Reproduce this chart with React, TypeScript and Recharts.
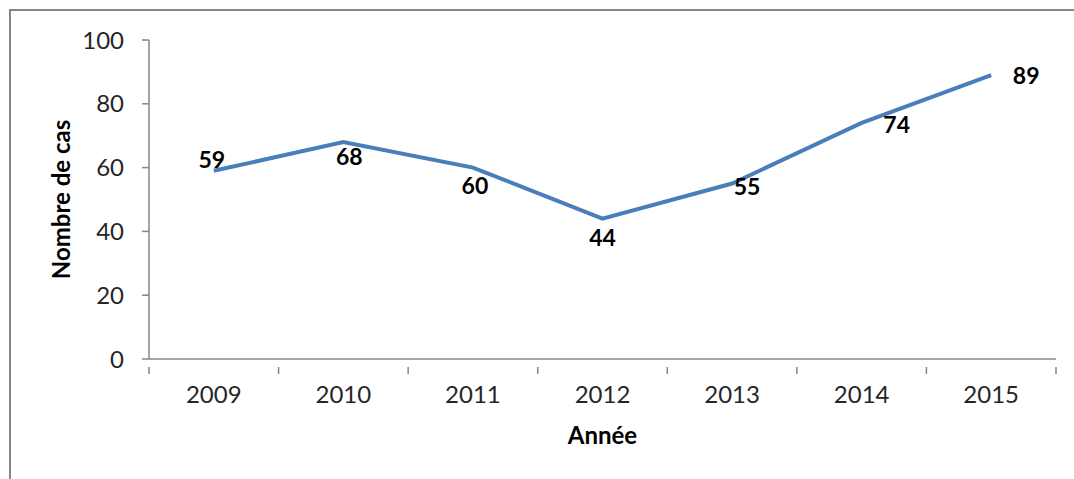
import { LineChart, Line, XAxis, YAxis, LabelList } from 'recharts'

const YEARS = ['2009', '2010', '2011', '2012', '2013', '2014', '2015']
const CASES = [59, 68, 60, 44, 55, 74, 89]
const Y_TICKS = [0, 20, 40, 60, 80, 100]

const LINE_BLUE = '#4a7ebb'
const AXIS_GREY = '#868686'
const TEXT = '#262626'
const FONT = 'Lato, "Open Sans", sans-serif'

const WIDTH = 1074
const HEIGHT = 479
const PLOT_LEFT = 149
const PLOT_RIGHT = 18
const STEP = (WIDTH - PLOT_LEFT - PLOT_RIGHT) / YEARS.length

// label offsets relative to each point, roughly like Excel placed them
const LABEL_OFFSETS: [number, number][] = [
  [-2, -11],
  [6, 15],
  [2, 18],
  [0, 19],
  [15, 3],
  [35, 2],
  [35, 1],
]

const data = YEARS.map((year, i) => ({ year, cases: CASES[i] }))

function YearTick(props: any) {
  const { x, y, payload, index } = props
  const left = x - STEP / 2
  return (
    <g>
      <line x1={left} y1={y} x2={left} y2={y + 7} stroke={AXIS_GREY} strokeWidth={1.5} />
      {index === YEARS.length - 1 && (
        <line x1={left + STEP} y1={y} x2={left + STEP} y2={y + 7} stroke={AXIS_GREY} strokeWidth={1.5} />
      )}
      <text x={x} y={y + 36} textAnchor="middle" fontSize={24} fill={TEXT} fontFamily={FONT}>
        {payload.value}
      </text>
    </g>
  )
}

function ValueLabel(props: any) {
  const { x, y, value, index } = props
  const [dx, dy] = LABEL_OFFSETS[index] ?? [0, -12]
  return (
    <text
      x={x + dx}
      y={y + dy}
      dy="0.35em"
      textAnchor="middle"
      fontSize={23}
      fontWeight="bold"
      fill="#000"
      fontFamily={FONT}
    >
      {value}
    </text>
  )
}

export default function App() {
  return (
    <div
      style={{
        position: 'absolute',
        left: 0,
        top: 0,
        width: WIDTH,
        height: HEIGHT,
        overflow: 'hidden',
        background: '#fff',
      }}
    >
      <div
        style={{
          position: 'absolute',
          left: 9,
          top: 9,
          width: 1100,
          height: 500,
          border: `2px solid ${AXIS_GREY}`,
        }}
      />
      <div style={{ position: 'absolute', left: 0, top: 0 }}>
        <LineChart
          width={WIDTH}
          height={HEIGHT}
          data={data}
          margin={{ top: 40, right: PLOT_RIGHT, bottom: 0, left: 0 }}
        >
          <XAxis
            dataKey="year"
            scale="band"
            height={120}
            stroke={AXIS_GREY}
            strokeWidth={1.5}
            tickLine={false}
            tick={<YearTick />}
            interval={0}
            label={{
              value: 'Année',
              position: 'insideBottom',
              offset: 35,
              fontSize: 24,
              fontWeight: 'bold',
              fill: '#000',
              fontFamily: FONT,
            }}
          />
          <YAxis
            width={PLOT_LEFT}
            domain={[0, 100]}
            ticks={Y_TICKS}
            stroke={AXIS_GREY}
            strokeWidth={1.5}
            tickSize={7}
            tickMargin={18}
            tick={{ fontSize: 24, fill: TEXT, fontFamily: FONT }}
            label={{
              value: 'Nombre de cas',
              angle: -90,
              position: 'insideLeft',
              offset: 61,
              style: { textAnchor: 'middle' },
              fontSize: 24,
              fontWeight: 'bold',
              fill: '#000',
              fontFamily: FONT,
            }}
          />
          <Line
            type="linear"
            dataKey="cases"
            stroke={LINE_BLUE}
            strokeWidth={4}
            dot={false}
            activeDot={false}
            isAnimationActive={false}
          >
            <LabelList dataKey="cases" content={<ValueLabel />} />
          </Line>
        </LineChart>
      </div>
    </div>
  )
}
